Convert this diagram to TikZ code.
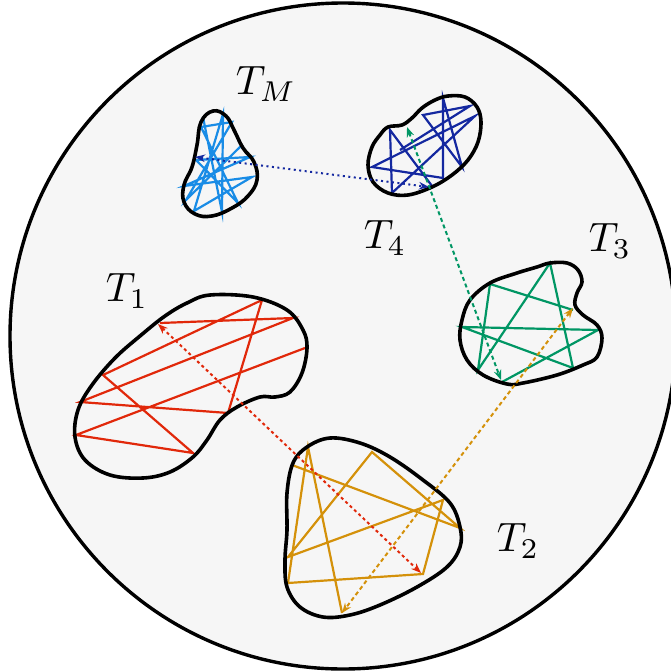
\documentclass[tikz,border=0pt]{standalone}
\usepackage{graphicx}
\usetikzlibrary{arrows.meta}
\definecolor{bgfill}{RGB}{246,246,246}
\definecolor{cTM}{RGB}{25,140,230}
\definecolor{cTfour}{RGB}{20,40,160}
\definecolor{cgreen}{RGB}{0,150,100}
\definecolor{cred}{RGB}{225,40,10}
\definecolor{corange}{RGB}{212,145,10}
\newcommand{\biglab}[1]{\scalebox{4.1}{$#1$}}
\begin{document}
\begin{tikzpicture}[x=1pt,y=-1pt,
  blob/.style={line width=3.6pt, line join=round},
  walk/.style={line width=2.2pt, line join=miter},
  link/.style={line width=2pt, {Stealth[length=10pt,width=7.5pt]}-{Stealth[length=10pt,width=7.5pt]}},
  lab/.style={inner sep=0pt}]
\useasboundingbox (0,0) rectangle (671,672);
% outer circle
\draw[line width=3.4pt, fill=bgfill] (343,336) circle[radius=333];

% ---- T_M
\draw[walk, cTM] (203,117) -- (222,212) -- (223,114) -- (194,211) -- (252,177) -- (184,186) -- (250,157) -- (196,160) -- (238,203) -- (201,127) -- (232,122) -- (186,200) -- (241,146);
\draw[blob] plot[smooth cycle, tension=0.7] coordinates {(213,111) (226,116) (234,130) (243,148) (254,162) (257,180) (248,196) (232,208) (212,216) (195,214) (184,202) (184,185) (192,167) (197,145) (201,122)};

% ---- T_4
\draw[walk, cTfour] (432,186) -- (390,130) -- (392,193) -- (475,116) -- (372,167) -- (443,178) -- (443,98) -- (462,167) -- (423,115) -- (470,106) -- (400,150);
\draw[blob] plot[smooth cycle, tension=0.6] coordinates {(388,127) (402,125) (412,118) (422,108) (435,100) (448,96) (465,97) (477,107) (481,122) (478,142) (468,160) (452,175) (432,187) (408,195) (388,193) (373,182) (368,165) (372,147) (380,135)};

% ---- T_3
\draw[walk, cgreen] (573,310) -- (490,284) -- (478,370) -- (550,263) -- (573,368) -- (462,327) -- (598,330) -- (502,382);
\draw[blob] plot[smooth cycle, tension=0.6] coordinates {(550,263) (567,263) (578,270) (582,282) (577,293) (575,305) (583,315) (597,325) (602,338) (597,357) (583,365) (557,375) (523,383) (507,384) (483,375) (467,360) (460,340) (462,320) (470,300) (490,283) (517,273) (537,267)};

% ---- T_1
\draw[walk, cred] (160,323) -- (293,318) -- (80,402) -- (228,413) -- (262,300) -- (103,375) -- (193,453) -- (76,435) -- (305,348);
\draw[blob] plot[smooth cycle, tension=0.6] coordinates {(210,295) (253,297) (287,310) (303,330) (307,348) (302,373) (290,392) (275,397) (260,397) (237,407) (220,420) (207,440) (193,457) (170,472) (143,478) (110,475) (85,460) (75,437) (78,410) (92,385) (115,358) (140,336) (165,316) (187,303)};

% ---- T_2
\draw[walk, corange] (342,613) -- (308,447) -- (288,583) -- (423,574) -- (443,500) -- (288,557) -- (372,452) -- (460,528) -- (292,465);
\draw[blob] plot[smooth cycle, tension=0.6] coordinates {(330,438) (360,443) (390,457) (423,480) (450,503) (460,527) (460,547) (447,567) (417,587) (380,605) (350,615) (323,617) (300,607) (287,587) (285,560) (287,530) (287,493) (293,463) (307,447)};

% ---- connectors
\coordinate (bA) at (195,157);
\coordinate (bB) at (429,187);
\coordinate (gA) at (407,127);
\coordinate (gB) at (501,380);
\coordinate (oA) at (573,308);
\coordinate (oB) at (342,613);
\coordinate (rA) at (158,324);
\coordinate (rB) at (421,573);
\draw[link, cTfour, dash pattern=on 2pt off 3.5pt] (bA) -- (bB);
\draw[link, cgreen, dash pattern=on 4pt off 3pt] (gA) -- (gB);
\draw[link, corange, dash pattern=on 4pt off 3pt] (oA) -- (oB);
\draw[link, cred, dash pattern=on 3pt off 3pt] (rA) -- (rB);

% ---- labels
\node[lab] (lTM) at (266,84) {\biglab{T_M}};
\node[lab] (lT4) at (385,238) {\biglab{T_4}};
\node[lab] (lT3) at (610,241) {\biglab{T_3}};
\node[lab] (lT1) at (127,291) {\biglab{T_1}};
\node[lab] (lT2) at (518,541) {\biglab{T_2}};
\end{tikzpicture}
\end{document}
